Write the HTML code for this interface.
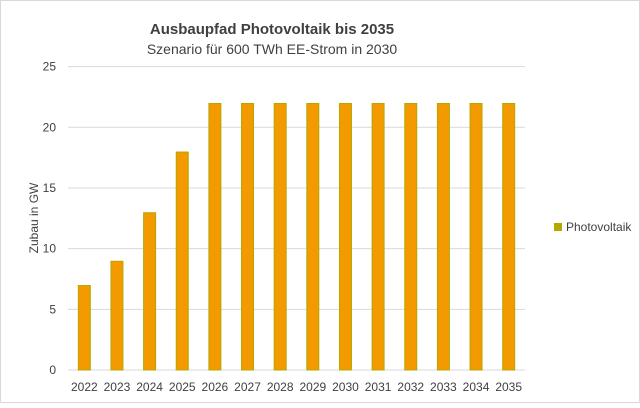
<!DOCTYPE html>
<html><head><meta charset="utf-8"><style>
body{margin:0;background:#fff;}
#c{position:relative;width:640px;height:408px;overflow:hidden;font-family:"Liberation Sans",sans-serif;}
</style></head><body>
<div id="c">
<svg id="s" width="640" height="408" xmlns="http://www.w3.org/2000/svg">
<rect x="0.5" y="0.5" width="639" height="402" fill="#fff" stroke="#d9d9d9"/>
<text x="272" y="34" text-anchor="middle" font-size="15" font-weight="bold" fill="#404040">Ausbaupfad Photovoltaik bis 2035</text>
<text x="272" y="54" text-anchor="middle" font-size="14" fill="#404040">Szenario für 600 TWh EE-Strom in 2030</text>
<text transform="translate(38,218) rotate(-90)" text-anchor="middle" font-size="12" fill="#404040">Zubau in GW</text>
<g id="grid"></g><g id="bars"></g><g id="xl"></g>
<rect x="554" y="223" width="8" height="8" fill="#b5a800"/>
<text x="566" y="231" font-size="12" fill="#404040">Photovoltaik</text>
</svg>
</div>
<script>
const categories=["2022","2023","2024","2025","2026","2027","2028","2029","2030","2031","2032","2033","2034","2035"];
const values=[7,9,13,18,22,22,22,22,22,22,22,22,22,22];
const yTicks=[0,5,10,15,20,25];
const NS="http://www.w3.org/2000/svg";
const y0=370,yTop=66.6,ymax=25,xL=68,xR=525;
const yS=v=>y0-(y0-yTop)*v/ymax;
const step=(xR-xL)/categories.length;
const xC=i=>xL+step*(i+0.5);
function mk(t,a){const e=document.createElementNS(NS,t);for(const k in a)e.setAttribute(k,a[k]);return e;}
const g=document.getElementById('grid');
yTicks.forEach(v=>{
 const l=mk('line',{x1:xL,x2:xR,y1:yS(v),y2:yS(v),stroke:'#d9d9d9','stroke-width':1});
 
 
 g.appendChild(l);
 const t=mk('text',{x:56,y:yS(v)+4,'text-anchor':'end','font-size':12,fill:'#404040'});
 t.textContent=v;
 
 
 g.appendChild(t);
});
const b=document.getElementById('bars'),xl=document.getElementById('xl');
categories.forEach((c,i)=>{
 const w=13,top=yS(values[i]);
 const r=mk('rect',{x:xC(i)-w/2+0.5,y:top+0.5,width:w-1,height:y0-top-0.5,fill:'#f29a00',stroke:'#b5a800','stroke-width':1});
 
 
 b.appendChild(r);
 const t=mk('text',{x:xC(i),y:391,'text-anchor':'middle','font-size':12,fill:'#404040'});
 t.textContent=c;
 
 
 xl.appendChild(t);
});
</script>
</body></html>
